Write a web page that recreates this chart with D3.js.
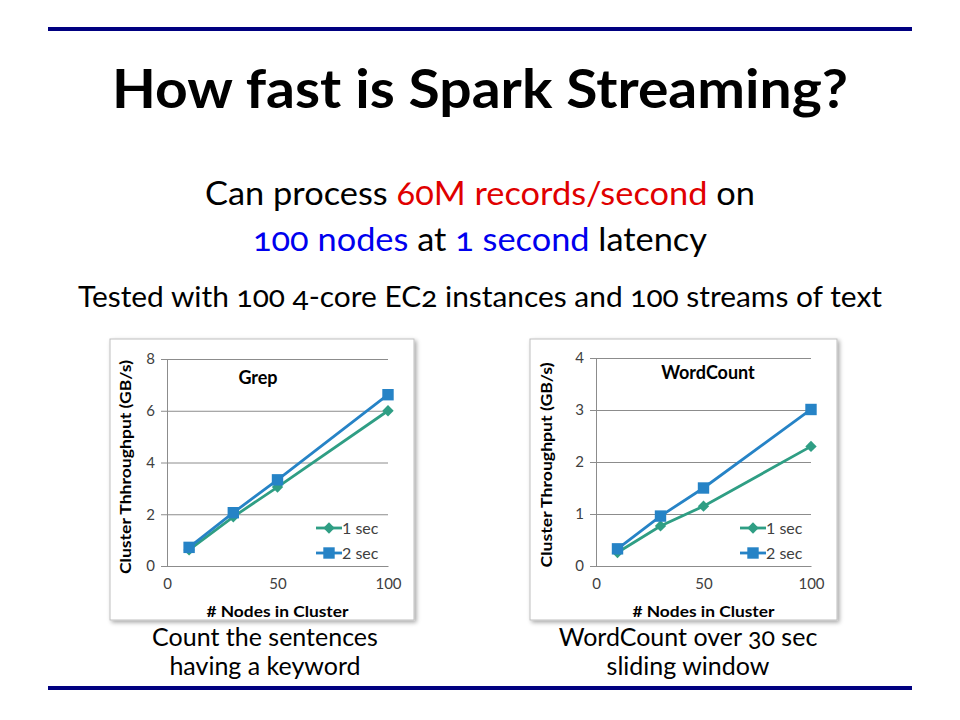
<!DOCTYPE html>
<html>
<head>
<meta charset="utf-8">
<script src="https://d3js.org/d3.v7.min.js"></script>
<style>
  body { margin: 0; background: #fff; }
  svg { font-family: Lato, "Open Sans", sans-serif; }
</style>
</head>
<body>
<div id="slide"></div>
<script>
// data
var nodes = [10, 30, 50, 100];
var grep1 = [0.62, 1.9, 3.05, 6.0];
var grep2 = [0.72, 2.06, 3.33, 6.62];
var wc1 = [0.26, 0.77, 1.15, 2.3];
var wc2 = [0.33, 0.96, 1.5, 3.01];
var grepTicks = [0, 2, 4, 6, 8];
var wcTicks = [0, 1, 2, 3, 4];
var xTicks = [0, 50, 100];
var seriesNames = ["1 sec", "2 sec"];

var green = "#2f9e84", blue = "#2683c6";

var svg = d3.select("#slide").append("svg")
    .attr("width", 960).attr("height", 720);

var defs = svg.append("defs");
var f = defs.append("filter").attr("id", "shadow")
    .attr("x", "-10%").attr("y", "-10%").attr("width", "130%").attr("height", "130%");
f.append("feDropShadow").attr("dx", 2).attr("dy", 2)
    .attr("stdDeviation", 2).attr("flood-color", "#000").attr("flood-opacity", 0.35);

// slide rules
svg.append("rect").attr("x", 48).attr("y", 27).attr("width", 864).attr("height", 4).attr("fill", "#000080");
svg.append("rect").attr("x", 48).attr("y", 686).attr("width", 864).attr("height", 4).attr("fill", "#000080");

// title + text
svg.append("text").attr("x", 480).attr("y", 108).attr("text-anchor", "middle")
    .attr("font-size", 54).attr("font-weight", "bold").attr("fill", "#000")
    .attr("textLength", 736).attr("lengthAdjust", "spacingAndGlyphs")
    .text("How fast is Spark Streaming?");

var l1 = svg.append("text").attr("x", 480).attr("y", 205).attr("text-anchor", "middle")
    .attr("font-size", 33).style("font-variant-numeric", "oldstyle-nums")
    .attr("textLength", 550).attr("lengthAdjust", "spacingAndGlyphs");
l1.append("tspan").attr("fill", "#000").text("Can process ");
l1.append("tspan").attr("fill", "#e00000").text("60M records/second");
l1.append("tspan").attr("fill", "#000").text(" on");

var l2 = svg.append("text").attr("x", 480).attr("y", 251).attr("text-anchor", "middle")
    .attr("font-size", 33).style("font-variant-numeric", "oldstyle-nums")
    .attr("textLength", 454).attr("lengthAdjust", "spacingAndGlyphs");
l2.append("tspan").attr("fill", "#0000ee").text("100 nodes");
l2.append("tspan").attr("fill", "#000").text(" at ");
l2.append("tspan").attr("fill", "#0000ee").text("1 second");
l2.append("tspan").attr("fill", "#000").text(" latency");

svg.append("text").attr("x", 480).attr("y", 307).attr("text-anchor", "middle")
    .attr("font-size", 28).style("font-variant-numeric", "oldstyle-nums")
    .attr("textLength", 804).attr("lengthAdjust", "spacingAndGlyphs")
    .text("Tested with 100 4-core EC2 instances and 100 streams of text");

function caption(x, lines) {
  lines.forEach(function(t, i) {
    svg.append("text").attr("x", x).attr("y", 646 + i * 29).attr("text-anchor", "middle")
      .attr("font-size", 25).style("font-variant-numeric", "oldstyle-nums").text(t);
  });
}
caption(265, ["Count the sentences", "having a keyword"]);
caption(688, ["WordCount over 30 sec", "sliding window"]);

function chart(cfg) {
  var g = svg.append("g");
  g.append("rect").attr("x", cfg.fx).attr("y", 339).attr("width", cfg.fw).attr("height", 281)
    .attr("fill", "#fff").attr("stroke", "#bfbfbf").attr("stroke-width", 1)
    .attr("filter", "url(#shadow)");

  var x = d3.scaleLinear().domain([0, 100]).range([cfg.left, cfg.right]);
  var y = d3.scaleLinear().domain([0, cfg.yTicks[cfg.yTicks.length - 1]]).range([566, cfg.top]);

  var ya = g.append("g").attr("transform", "translate(" + cfg.left + ",0)")
    .call(d3.axisLeft(y).tickValues(cfg.yTicks).tickFormat(d3.format("d"))
      .tickSizeInner(-(cfg.right - cfg.left)).tickSizeOuter(0).tickPadding(12));
  ya.selectAll(".tick line").attr("stroke", "#8c8c8c").attr("x1", -6);
  ya.select(".domain").attr("stroke", "#8c8c8c");
  ya.selectAll("text").attr("font-size", 15).attr("fill", "#404040").attr("font-family", "Lato, sans-serif");

  var xa = g.append("g").attr("transform", "translate(0,566)")
    .call(d3.axisBottom(x).tickValues(xTicks).tickSize(0).tickPadding(12));
  xa.select(".domain").attr("stroke", "#8c8c8c");
  xa.selectAll("text").attr("font-size", 15).attr("fill", "#404040").attr("font-family", "Lato, sans-serif");

  g.append("text").attr("x", (cfg.left + cfg.right) / 2).attr("y", 617).attr("text-anchor", "middle")
    .attr("font-size", 16).attr("font-weight", "bold")
    .attr("textLength", 142).attr("lengthAdjust", "spacingAndGlyphs").text("# Nodes in Cluster");
  g.append("text").attr("transform", "translate(" + cfg.yx + "," + cfg.yy + ") rotate(-90)")
    .attr("text-anchor", "middle").attr("font-size", 15).attr("font-weight", "bold")
    .attr("textLength", cfg.ylen).attr("lengthAdjust", "spacingAndGlyphs").text(cfg.ylabel);
  g.append("text").attr("x", cfg.tx).attr("y", cfg.ty).attr("text-anchor", "middle")
    .attr("font-size", 18).attr("font-weight", "bold").text(cfg.title);

  var line = d3.line().x(function(d) { return x(d[0]); }).y(function(d) { return y(d[1]); });
  var diamond = d3.symbol().type(d3.symbolSquare).size(64);
  var square = d3.symbol().type(d3.symbolSquare).size(130);

  [[cfg.s1, green, "d"], [cfg.s2, blue, "s"]].forEach(function(s) {
    var pts = nodes.map(function(n, i) { return [n, s[0][i]]; });
    g.append("path").datum(pts).attr("d", line).attr("fill", "none")
      .attr("stroke", s[1]).attr("stroke-width", 2.8);
    g.selectAll(null).data(pts).enter().append("path")
      .attr("d", s[2] === "d" ? diamond : square)
      .attr("transform", function(d) {
        return "translate(" + x(d[0]) + "," + y(d[1]) + ")" + (s[2] === "d" ? " rotate(45)" : "");
      })
      .attr("fill", s[1]);
  });

  // legend
  seriesNames.forEach(function(name, i) {
    var ly = 528 + i * 25, c = i === 0 ? green : blue;
    g.append("line").attr("x1", cfg.lx).attr("x2", cfg.lx + 26).attr("y1", ly).attr("y2", ly)
      .attr("stroke", c).attr("stroke-width", 2.8);
    g.append("path").attr("d", i === 0 ? diamond : square)
      .attr("transform", "translate(" + (cfg.lx + 13) + "," + ly + ")" + (i === 0 ? " rotate(45)" : ""))
      .attr("fill", c);
    g.append("text").attr("x", cfg.lx + 26).attr("y", ly + 5.5).attr("font-size", 16)
      .attr("fill", "#404040").text(name);
  });
}

chart({ fx: 110, fw: 304, left: 167, right: 388, top: 359, yTicks: grepTicks,
  s1: grep1, s2: grep2, title: "Grep", tx: 258, ty: 384, lx: 316, yx: 131, yy: 467, ylen: 214,
  ylabel: "Cluster Thhroughput (GB/s)" });
chart({ fx: 530, fw: 307, left: 596, right: 811, top: 358, yTicks: wcTicks,
  s1: wc1, s2: wc2, title: "WordCount", tx: 708, ty: 379, lx: 740, yx: 552, yy: 465, ylen: 205,
  ylabel: "Cluster Throughput (GB/s)" });
</script>
</body>
</html>
